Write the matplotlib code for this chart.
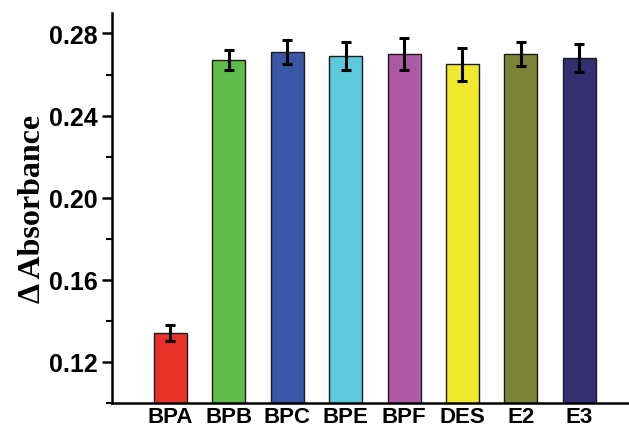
import matplotlib
matplotlib.use("Agg")
import matplotlib.pyplot as plt
import numpy as np
from matplotlib.ticker import MultipleLocator

samples = ["BPA", "BPB", "BPC", "BPE", "BPF", "DES", "E2", "E3"]
absorbance = [0.134, 0.267, 0.271, 0.269, 0.270, 0.265, 0.270, 0.268]
errors = [0.004, 0.005, 0.006, 0.007, 0.008, 0.008, 0.006, 0.007]
colors = ["#E8322A", "#5FBC4A", "#3B56A6", "#5CC9DC", "#AD5AA5",
          "#F0E92C", "#7B8437", "#342F70"]

fig = plt.figure(figsize=(6.29, 4.31), dpi=100)
ax = fig.add_axes([0.178, 0.0626, 0.822, 0.905])

x = np.arange(1, len(samples) + 1)
ax.bar(x, absorbance, width=0.565, color=colors, edgecolor="#1a1a1a",
       linewidth=1.0, zorder=2)
ax.errorbar(x, absorbance, yerr=errors, fmt="none", ecolor="black",
            elinewidth=2.2, capsize=3.6, capthick=2.2, zorder=3)

ax.set_xlim(0, 8.85)
ax.set_ylim(0.10, 0.29)
ax.set_xticks(x)
ax.set_xticklabels(samples, fontsize=16, fontweight="bold",
                   family="Liberation Sans")
ax.yaxis.set_minor_locator(MultipleLocator(0.02))
ax.set_yticks([0.12, 0.16, 0.20, 0.24, 0.28])
ax.set_yticklabels(["0.12", "0.16", "0.20", "0.24", "0.28"], fontsize=18,
                   fontweight="bold", family="Liberation Sans")
ax.tick_params(axis="x", length=0, pad=2)
ax.tick_params(axis="y", which="major", length=7, width=1.8, pad=3.5)
ax.tick_params(axis="y", which="minor", length=4, width=1.5)

ax.spines["top"].set_visible(False)
ax.spines["right"].set_visible(False)
ax.spines["left"].set_linewidth(1.8)
ax.spines["bottom"].set_linewidth(1.8)

ax.set_ylabel("Δ Absorbance", fontsize=23, fontweight="bold",
              family="Liberation Serif", labelpad=1.5)

fig.savefig("out.png", dpi=100)
